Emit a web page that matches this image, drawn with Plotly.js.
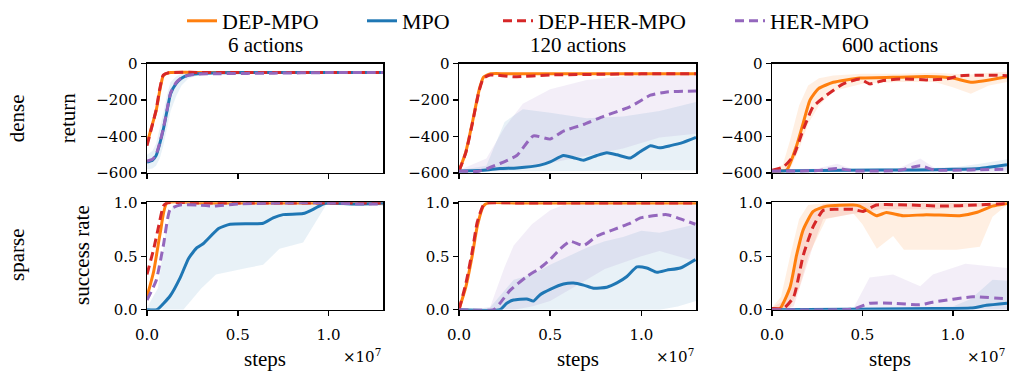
<!DOCTYPE html>
<html><head><meta charset="utf-8">
<script src="https://cdn.plot.ly/plotly-3.0.1.min.js"></script>
<style>
html,body{margin:0;padding:0;background:#fff}
#chart{width:1010px;height:376px}
#chart text.annotation-text, #chart text.legendtext { font-family: 'Liberation Serif' !important; }
#chart g.xtick text, #chart g.ytick text { font-family: 'DejaVu Serif' !important; }
#chart g.annotation[data-index="4"] text, #chart g.annotation[data-index="6"] text, #chart g.annotation[data-index="8"] text { font-family: 'DejaVu Serif' !important; }
</style>
</head><body><div id="chart"></div>
<script>
// ---- tick labels / categories ----
const seriesNames = ['DEP-MPO', 'MPO', 'DEP-HER-MPO', 'HER-MPO'];
const panelTitles = ['6 actions', '120 actions', '600 actions'];
const rowLabels = ['dense', 'sparse'];
const yTitles = ['return', 'success rate'];
const xTickVals = [0, 0.5, 1.0];          // in units of 1e7 steps
const xTickText = ['0.0', '0.5', '1.0'];

// ===== Row 1 (dense, return) =====
// 6 actions
const a1_dep_x = [0, 0.026, 0.05, 0.07, 0.09, 0.12, 0.3, 0.6, 0.9, 1.3];
const a1_dep_y = [-440, -345, -260, -150, -65, -50, -48, -48, -48, -48];
const a1_dher_x = [0, 0.026, 0.05, 0.07, 0.09, 0.12, 0.3, 0.6, 0.9, 1.3];
const a1_dher_y = [-450, -350, -255, -140, -62, -50, -48, -48, -48, -48];
const a1_mpo_x = [0, 0.03, 0.05, 0.07, 0.09, 0.11, 0.13, 0.16, 0.19, 0.23, 0.28, 0.4, 0.7, 1.0, 1.3];
const a1_mpo_y = [-540, -530, -505, -440, -360, -260, -165, -110, -80, -62, -55, -50, -49, -49, -49];
const a1_her_x = [0, 0.03, 0.05, 0.07, 0.09, 0.11, 0.13, 0.16, 0.19, 0.23, 0.28, 0.4, 0.7, 1.0, 1.3];
const a1_her_y = [-535, -525, -500, -435, -355, -255, -160, -105, -78, -63, -57, -55, -52, -49, -49];
const a1_mpoB_x = [0, 0.03, 0.05, 0.07, 0.09, 0.11, 0.13, 0.16, 0.19, 0.23, 0.28, 0.4, 0.7, 1.0, 1.3];
const a1_mpoB_lo = [-580, -575, -560, -520, -450, -360, -260, -180, -120, -80, -65, -58, -55, -55, -55];
const a1_mpoB_hi = [-500, -480, -440, -360, -270, -170, -100, -70, -55, -48, -45, -44, -44, -44, -44];

// 120 actions
const a2_dep_x = [0, 0.037, 0.073, 0.11, 0.134, 0.17, 0.25, 0.5, 0.8, 1.0, 1.3];
const a2_dep_y = [-589, -486, -325, -146, -75, -56, -55, -55, -55, -55, -55];
const a2_dher_x = [0, 0.037, 0.073, 0.11, 0.134, 0.17, 0.3, 0.5, 0.8, 1.0, 1.3];
const a2_dher_y = [-589, -490, -330, -150, -80, -62, -72, -62, -58, -56, -55];
const a2_mpo_x = [0, 0.134, 0.225, 0.317, 0.445, 0.5, 0.573, 0.628, 0.683, 0.756, 0.811, 0.866, 0.94, 0.995, 1.05, 1.1, 1.16, 1.23, 1.3];
const a2_mpo_y = [-589, -585, -575, -572, -557, -539, -504, -516, -530, -504, -489, -500, -518, -482, -450, -462, -450, -432, -405];
const a2_her_x = [0, 0.11, 0.225, 0.317, 0.408, 0.5, 0.573, 0.683, 0.793, 0.94, 1.05, 1.14, 1.3];
const a2_her_y = [-589, -590, -548, -504, -396, -414, -370, -334, -289, -236, -173, -155, -150];
const a2_herB_x = [0, 0.15, 0.25, 0.35, 0.5, 0.7, 0.9, 1.1, 1.3];
const a2_herB_lo = [-592, -592, -588, -575, -545, -505, -465, -405, -385];
const a2_herB_hi = [-585, -520, -350, -220, -140, -90, -70, -55, -50];
const a2_mpoB_x = [0, 0.15, 0.25, 0.35, 0.5, 0.7, 0.9, 1.1, 1.3];
const a2_mpoB_lo = [-592, -592, -592, -592, -592, -590, -588, -587, -585];
const a2_mpoB_hi = [-585, -560, -320, -250, -270, -300, -290, -260, -210];

// 600 actions
const a3_dep_x = [0, 0.081, 0.136, 0.173, 0.21, 0.256, 0.339, 0.486, 0.67, 0.855, 1.0, 1.1, 1.3];
const a3_dep_y = [-590, -584, -450, -325, -200, -138, -102, -79, -75, -71, -79, -102, -71];
const a3_dher_x = [0, 0.064, 0.12, 0.173, 0.228, 0.302, 0.394, 0.486, 0.54, 0.615, 0.726, 0.855, 0.965, 1.04, 1.22, 1.3];
const a3_dher_y = [-585, -566, -504, -361, -236, -173, -111, -84, -111, -93, -84, -89, -84, -66, -63, -66];
const a3_mpo_x = [0, 0.4, 0.8, 1.0, 1.15, 1.3];
const a3_mpo_y = [-589, -585, -583, -580, -575, -555];
const a3_her_x = [0, 0.25, 0.36, 0.45, 0.7, 0.82, 0.9, 1.1, 1.3];
const a3_her_y = [-589, -587, -575, -588, -586, -561, -584, -583, -579];
const a3_depB_x = [0, 0.06, 0.1, 0.15, 0.2, 0.26, 0.34, 0.5, 0.7, 0.9, 1.0, 1.1, 1.2, 1.3];
const a3_depB_lo = [-594, -592, -580, -470, -330, -230, -150, -110, -100, -100, -130, -165, -120, -100];
const a3_depB_hi = [-585, -555, -420, -230, -120, -80, -65, -55, -55, -50, -55, -60, -50, -45];
const a3_herB_x = [0, 0.25, 0.36, 0.45, 0.7, 0.82, 0.9, 1.1, 1.3];
const a3_herB_lo = [-596, -596, -592, -596, -596, -590, -596, -595, -594];
const a3_herB_hi = [-583, -575, -550, -580, -575, -520, -572, -568, -562];
const a3_mpoB_x = [0, 0.4, 0.8, 1.0, 1.15, 1.3];
const a3_mpoB_lo = [-595, -594, -593, -592, -590, -585];
const a3_mpoB_hi = [-582, -578, -575, -570, -550, -525];

// ===== Row 2 (sparse, success rate) =====
// 6 actions
const b1_dep_x = [0, 0.037, 0.073, 0.11, 0.3, 0.6, 1.0, 1.3];
const b1_dep_y = [0.12, 0.36, 0.72, 1.0, 1.0, 1.0, 1.0, 1.0];
const b1_dher_x = [0, 0.037, 0.064, 0.09, 0.11, 0.3, 1.3];
const b1_dher_y = [0.33, 0.57, 0.78, 0.97, 1.0, 1.0, 1.0];
const b1_her_x = [0, 0.05, 0.09, 0.128, 0.183, 0.28, 0.37, 0.5, 0.8, 1.0, 1.2, 1.3];
const b1_her_y = [0.09, 0.27, 0.6, 0.94, 0.98, 0.98, 0.97, 0.99, 1.0, 1.0, 0.99, 0.99];
const b1_mpo_x = [0, 0.055, 0.128, 0.183, 0.229, 0.275, 0.311, 0.394, 0.458, 0.64, 0.695, 0.75, 0.86, 0.915, 0.97, 1.0, 1.15, 1.3];
const b1_mpo_y = [0.0, 0.0, 0.13, 0.30, 0.48, 0.58, 0.62, 0.76, 0.80, 0.81, 0.86, 0.89, 0.90, 0.94, 0.99, 1.0, 0.99, 1.0];
const b1_mpoB_x = [0, 0.06, 0.1, 0.14, 0.2, 0.3, 0.38, 0.55, 0.64, 0.73, 0.86, 0.93, 0.99, 1.1, 1.3];
const b1_mpoB_lo = [0, 0, 0, 0, 0.0, 0.2, 0.33, 0.39, 0.42, 0.57, 0.63, 0.82, 0.99, 0.97, 0.97];
const b1_mpoB_hi = [0.02, 0.2, 0.7, 0.97, 1.0, 1.0, 1.0, 1.0, 1.0, 1.0, 1.0, 1.0, 1.0, 1.0, 1.0];

// 120 actions
const b2_dep_x = [0, 0.037, 0.073, 0.1, 0.134, 0.16, 0.3, 1.3];
const b2_dep_y = [0, 0.21, 0.51, 0.78, 0.97, 1.0, 1.0, 1.0];
const b2_dher_x = [0, 0.037, 0.073, 0.1, 0.134, 0.16, 0.3, 1.3];
const b2_dher_y = [0, 0.24, 0.55, 0.82, 0.98, 1.0, 1.0, 1.0];
const b2_her_x = [0, 0.19, 0.225, 0.28, 0.372, 0.445, 0.5, 0.555, 0.61, 0.683, 0.757, 0.848, 0.94, 0.995, 1.14, 1.214, 1.297];
const b2_her_y = [0, 0, 0.06, 0.18, 0.31, 0.39, 0.47, 0.57, 0.64, 0.60, 0.69, 0.75, 0.81, 0.86, 0.89, 0.85, 0.80];
const b2_mpo_x = [0, 0.225, 0.262, 0.299, 0.372, 0.408, 0.445, 0.5, 0.573, 0.628, 0.683, 0.738, 0.811, 0.866, 0.921, 0.976, 1.03, 1.086, 1.14, 1.214, 1.297];
const b2_mpo_y = [0, 0, 0.06, 0.09, 0.10, 0.08, 0.14, 0.19, 0.24, 0.25, 0.23, 0.20, 0.21, 0.25, 0.31, 0.40, 0.39, 0.35, 0.37, 0.39, 0.47];
const b2_herB_x = [0, 0.17, 0.25, 0.3, 0.4, 0.5, 0.6, 0.7, 0.8, 0.9, 1.0, 1.1, 1.2, 1.3];
const b2_herB_lo = [0, 0, 0, 0, 0.03, 0.08, 0.18, 0.28, 0.38, 0.44, 0.5, 0.55, 0.5, 0.45];
const b2_herB_hi = [0, 0.02, 0.4, 0.6, 0.8, 0.93, 1.0, 1.0, 1.0, 1.0, 1.0, 1.0, 1.0, 1.0];
const b2_mpoB_x = [0, 0.17, 0.25, 0.3, 0.4, 0.5, 0.6, 0.7, 0.8, 0.9, 1.0, 1.1, 1.2, 1.3];
const b2_mpoB_lo = [0, 0, 0, 0, 0, 0, 0, 0, 0, 0, 0, 0, 0.03, 0.08];
const b2_mpoB_hi = [0, 0.02, 0.18, 0.28, 0.33, 0.42, 0.5, 0.58, 0.64, 0.68, 0.74, 0.72, 0.76, 0.8];

// 600 actions
const b3_dep_x = [0, 0.044, 0.1, 0.136, 0.173, 0.228, 0.302, 0.449, 0.486, 0.578, 0.633, 0.725, 0.854, 1.038, 1.13, 1.22, 1.3];
const b3_dep_y = [0.01, 0.01, 0.21, 0.51, 0.75, 0.92, 0.97, 0.98, 0.97, 0.88, 0.91, 0.88, 0.89, 0.88, 0.91, 0.97, 0.995];
const b3_dher_x = [0, 0.064, 0.12, 0.173, 0.228, 0.283, 0.357, 0.449, 0.504, 0.578, 0.762, 0.946, 1.13, 1.3];
const b3_dher_y = [0.01, 0.01, 0.12, 0.51, 0.78, 0.93, 0.94, 0.94, 0.92, 0.98, 0.98, 0.97, 0.98, 0.995];
const b3_her_x = [0, 0.449, 0.54, 0.67, 0.817, 0.89, 1.11, 1.3];
const b3_her_y = [0.0, 0.005, 0.06, 0.06, 0.045, 0.07, 0.12, 0.10];
const b3_mpo_x = [0, 0.6, 0.9, 1.1, 1.186, 1.3];
const b3_mpo_y = [0, 0.005, 0.01, 0.015, 0.04, 0.06];
const b3_depB_x = [0, 0.05, 0.1, 0.15, 0.2, 0.3, 0.45, 0.5, 0.58, 0.67, 0.73, 0.85, 1.02, 1.15, 1.22, 1.3];
const b3_depB_lo = [0, 0, 0.02, 0.2, 0.5, 0.85, 0.9, 0.8, 0.57, 0.69, 0.56, 0.56, 0.56, 0.59, 0.87, 0.98];
const b3_depB_hi = [0.02, 0.12, 0.5, 0.85, 0.98, 1.0, 1.0, 1.0, 1.0, 1.0, 1.0, 1.0, 1.0, 1.0, 1.0, 1.0];
const b3_dherB_x = [0, 0.064, 0.12, 0.173, 0.228, 0.283, 0.4, 0.6, 0.9, 1.3];
const b3_dherB_lo = [0, 0, 0.03, 0.3, 0.6, 0.85, 0.88, 0.94, 0.94, 0.98];
const b3_dherB_hi = [0.02, 0.08, 0.35, 0.75, 0.92, 0.99, 1.0, 1.0, 1.0, 1.0];
const b3_herB_x = [0, 0.449, 0.54, 0.67, 0.82, 0.89, 1.07, 1.3];
const b3_herB_lo = [0, 0, 0, 0, 0, 0, 0, 0];
const b3_herB_hi = [0, 0.01, 0.30, 0.33, 0.22, 0.33, 0.43, 0.39];
const b3_mpoB_x = [0, 0.6, 1.0, 1.1, 1.22, 1.3];
const b3_mpoB_lo = [0, 0, 0, 0, 0, 0];
const b3_mpoB_hi = [0, 0.01, 0.03, 0.1, 0.28, 0.27];

// ---- styles ----
const COL = {dep: '#ff7f0e', mpo: '#1f77b4', dher: '#d62728', her: '#9467bd'};
const FILL = {dep: 'rgba(255,127,14,0.12)', mpo: 'rgba(31,119,180,0.10)', dher: 'rgba(214,39,40,0.10)', her: 'rgba(148,103,189,0.11)'};
const DASH = {dep: 'solid', mpo: 'solid', dher: '9px,5px', her: '9px,5px'};
const NAME = {dep: seriesNames[0], mpo: seriesNames[1], dher: seriesNames[2], her: seriesNames[3]};
const LEG = {dep: 'legend', mpo: 'legend2', dher: 'legend3', her: 'legend4'};

const traces = [];
function band(x, lo, hi, key, ax) {
  const xs = x.concat(x.slice().reverse());
  const ys = hi.concat(lo.slice().reverse());
  traces.push({x: xs, y: ys, xaxis: 'x' + ax, yaxis: 'y' + ax, type: 'scatter', mode: 'lines',
    fill: 'toself', fillcolor: FILL[key], line: {width: 0, color: 'rgba(0,0,0,0)'},
    hoverinfo: 'skip', showlegend: false});
}
function line(x, y, key, ax, legend) {
  traces.push({x: x, y: y, xaxis: 'x' + ax, yaxis: 'y' + ax, type: 'scatter', mode: 'lines',
    name: NAME[key], legendgroup: key, showlegend: !!legend, legend: LEG[key],
    line: {color: COL[key], width: 3, dash: DASH[key], shape: 'spline', smoothing: 0.5}});
}

// bands
band(a1_mpoB_x, a1_mpoB_lo, a1_mpoB_hi, 'mpo', '');
band(a2_herB_x, a2_herB_lo, a2_herB_hi, 'her', '2');
band(a2_mpoB_x, a2_mpoB_lo, a2_mpoB_hi, 'mpo', '2');
band(a3_depB_x, a3_depB_lo, a3_depB_hi, 'dep', '3');
band(a3_herB_x, a3_herB_lo, a3_herB_hi, 'her', '3');
band(a3_mpoB_x, a3_mpoB_lo, a3_mpoB_hi, 'mpo', '3');
band(b1_mpoB_x, b1_mpoB_lo, b1_mpoB_hi, 'mpo', '4');
band(b2_herB_x, b2_herB_lo, b2_herB_hi, 'her', '5');
band(b2_mpoB_x, b2_mpoB_lo, b2_mpoB_hi, 'mpo', '5');
band(b3_depB_x, b3_depB_lo, b3_depB_hi, 'dep', '6');
band(b3_dherB_x, b3_dherB_lo, b3_dherB_hi, 'dher', '6');
band(b3_herB_x, b3_herB_lo, b3_herB_hi, 'her', '6');
band(b3_mpoB_x, b3_mpoB_lo, b3_mpoB_hi, 'mpo', '6');

// lines (order: DEP-MPO, MPO, DEP-HER-MPO, HER-MPO)
line(a1_dep_x, a1_dep_y, 'dep', '', true);
line(a1_mpo_x, a1_mpo_y, 'mpo', '', true);
line(a1_dher_x, a1_dher_y, 'dher', '', true);
line(a1_her_x, a1_her_y, 'her', '', true);
line(a2_dep_x, a2_dep_y, 'dep', '2');
line(a2_mpo_x, a2_mpo_y, 'mpo', '2');
line(a2_dher_x, a2_dher_y, 'dher', '2');
line(a2_her_x, a2_her_y, 'her', '2');
line(a3_dep_x, a3_dep_y, 'dep', '3');
line(a3_mpo_x, a3_mpo_y, 'mpo', '3');
line(a3_dher_x, a3_dher_y, 'dher', '3');
line(a3_her_x, a3_her_y, 'her', '3');
line(b1_dep_x, b1_dep_y, 'dep', '4');
line(b1_mpo_x, b1_mpo_y, 'mpo', '4');
line(b1_dher_x, b1_dher_y, 'dher', '4');
line(b1_her_x, b1_her_y, 'her', '4');
line(b2_dep_x, b2_dep_y, 'dep', '5');
line(b2_mpo_x, b2_mpo_y, 'mpo', '5');
line(b2_dher_x, b2_dher_y, 'dher', '5');
line(b2_her_x, b2_her_y, 'her', '5');
line(b3_dep_x, b3_dep_y, 'dep', '6');
line(b3_mpo_x, b3_mpo_y, 'mpo', '6');
line(b3_dher_x, b3_dher_y, 'dher', '6');
line(b3_her_x, b3_her_y, 'her', '6');

// ---- layout ----
const W = 1010, H = 376;
const colPx = [[147, 383], [459, 696], [772, 1007]];
const rowPx = [[56, 168], [198, 308]];
const TXT = 'Liberation Serif';
const TICKF = {family: 'DejaVu Serif', size: 15, color: '#000'};
const legendStartPx = [182, 362, 498, 730];
function legendAt(px) {
  return {orientation: 'h', x: px / W, xanchor: 'left', y: 1 - 12 / H, yanchor: 'middle',
    font: {family: TXT, size: 22, color: '#000'}, bgcolor: 'rgba(0,0,0,0)', itemwidth: 30};
}
const layout = {
  width: W, height: H, margin: {l: 0, r: 0, t: 0, b: 0},
  paper_bgcolor: '#fff', plot_bgcolor: '#fff', showlegend: true,
  font: {family: TXT, size: 21, color: '#000'},
  legend: legendAt(legendStartPx[0]),
  legend2: legendAt(legendStartPx[1]),
  legend3: legendAt(legendStartPx[2]),
  legend4: legendAt(legendStartPx[3]),
  annotations: []
};
for (let r = 0; r < 2; r++) {
  for (let c = 0; c < 3; c++) {
    const i = r * 3 + c + 1;
    const sx = i === 1 ? '' : String(i);
    layout['xaxis' + sx] = {
      domain: [colPx[c][0] / W, colPx[c][1] / W], anchor: 'y' + sx, range: [0, 1.3],
      tickvals: xTickVals, ticktext: xTickText, showticklabels: r === 1,
      ticks: 'outside', ticklen: 5, tickwidth: 1.5, tickcolor: '#000', ticklabelstandoff: 6,
      showline: true, linecolor: '#000', linewidth: 1.5, mirror: true,
      showgrid: false, zeroline: false, tickfont: TICKF
    };
    layout['yaxis' + sx] = r === 0 ? {
      domain: [1 - rowPx[r][1] / H, 1 - rowPx[r][0] / H], anchor: 'x' + sx, range: [-600, 0],
      tickvals: [0, -200, -400, -600],
      ticks: 'outside', ticklen: 5, tickwidth: 1.5, tickcolor: '#000',
      showline: true, linecolor: '#000', linewidth: 1.5, mirror: true,
      showgrid: false, zeroline: false, tickfont: TICKF
    } : {
      domain: [1 - rowPx[r][1] / H, 1 - rowPx[r][0] / H], anchor: 'x' + sx, range: [0, 1.006],
      tickvals: [0, 0.5, 1.0], ticktext: ['0.0', '0.5', '1.0'],
      ticks: 'outside', ticklen: 5, tickwidth: 1.5, tickcolor: '#000',
      showline: true, linecolor: '#000', linewidth: 1.5, mirror: true,
      showgrid: false, zeroline: false, tickfont: TICKF
    };
    if (r === 0) {
      layout.annotations.push({text: panelTitles[c], xref: 'paper', yref: 'paper',
        x: (colPx[c][0] + colPx[c][1]) / 2 / W, y: 1 - 37 / H, xanchor: 'center', yanchor: 'middle',
        showarrow: false, font: {family: TXT, size: 21, color: '#000'}});
    } else {
      layout.annotations.push({text: 'steps', xref: 'paper', yref: 'paper',
        x: (colPx[c][0] + colPx[c][1]) / 2 / W, y: 1 - 359 / H, xanchor: 'center', yanchor: 'middle',
        showarrow: false, font: {family: TXT, size: 21, color: '#000'}});
      layout.annotations.push({text: '×10<sup>7</sup>', xref: 'paper', yref: 'paper',
        x: colPx[c][1] / W, y: 1 - 355 / H, xanchor: 'right', yanchor: 'middle',
        showarrow: false, font: {family: 'DejaVu Serif', size: 15, color: '#000'}});
    }
  }
}
[[rowLabels[0], 17, 112], [rowLabels[1], 17, 252]].forEach(function (a) {
  layout.annotations.push({text: a[0], xref: 'paper', yref: 'paper', x: a[1] / W, y: 1 - a[2] / H,
    xanchor: 'center', yanchor: 'middle', textangle: -90, showarrow: false,
    font: {family: TXT, size: 21, color: '#000'}});
});
[[yTitles[0], 68, 112], [yTitles[1], 82, 252]].forEach(function (a) {
  layout.annotations.push({text: a[0], xref: 'paper', yref: 'paper', x: a[1] / W, y: 1 - a[2] / H,
    xanchor: 'center', yanchor: 'middle', textangle: -90, showarrow: false,
    font: {family: TXT, size: 21, color: '#000'}});
});

Plotly.newPlot('chart', traces, layout, {displayModeBar: false, staticPlot: true});
</script></body></html>
